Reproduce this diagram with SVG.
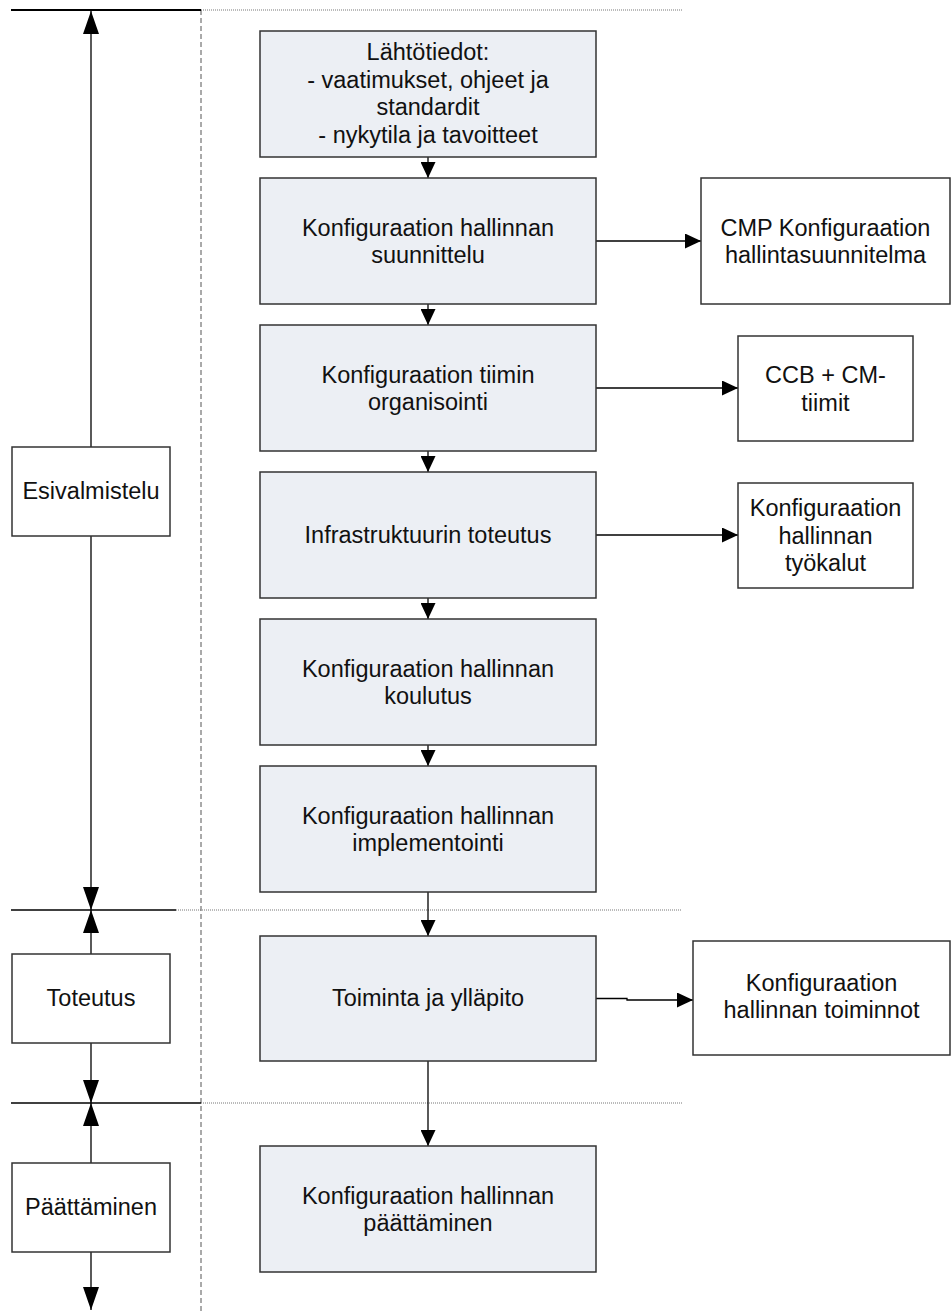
<svg xmlns="http://www.w3.org/2000/svg" width="951" height="1311" viewBox="0 0 951 1311">
  <style>
    .step { fill: #ECEFF4; stroke: #333333; stroke-width: 1.5; }
    .out { fill: #FFFFFF; stroke: #333333; stroke-width: 1.5; }
    .phase { fill: #FFFFFF; stroke: #333333; stroke-width: 1.5; }
    text { font-family: "Liberation Sans", Arial, sans-serif; font-size: 23.5px; fill: #111111; text-anchor: middle; }
    .conn { stroke: #000000; stroke-width: 1.3; fill: none; }
    .sep { stroke: #000000; stroke-width: 2; }
    .dot { stroke: #777777; stroke-width: 1; stroke-dasharray: 1 1; }
    .lane { stroke: #555555; stroke-width: 1; stroke-dasharray: 5 3; }
  </style>
  <defs>
    <marker id="big" markerUnits="userSpaceOnUse" markerWidth="24" markerHeight="16" refX="23" refY="8" orient="auto">
      <path d="M0 0 L23 8 L0 16 z" fill="#000000"/>
    </marker>
    <marker id="small" markerUnits="userSpaceOnUse" markerWidth="16" markerHeight="15" refX="16" refY="7.5" orient="auto">
      <path d="M0 0 L16 7.5 L0 15 z" fill="#000000"/>
    </marker>
  </defs>

  <rect width="951" height="1311" fill="#FFFFFF"/>

  <!-- phase boundaries and lane divider -->
  <g id="frame">
    <line class="lane" x1="201" y1="10" x2="201" y2="1311"/>
    <line class="sep" x1="11" y1="10" x2="201" y2="10"/>
    <line class="dot" x1="201" y1="10" x2="682" y2="10"/>
    <line class="sep" x1="11" y1="910" x2="176" y2="910" style="stroke-width:1.5"/>
    <line class="dot" x1="176" y1="910" x2="682" y2="910"/>
    <line class="sep" x1="11" y1="1103" x2="201" y2="1103" style="stroke-width:1.5"/>
    <line class="dot" x1="201" y1="1103" x2="682" y2="1103"/>
  </g>

  <!-- connectors -->
  <g id="connectors">
    <!-- phase extents -->
    <line class="conn" x1="91" y1="447" x2="91" y2="11" marker-end="url(#big)"/>
    <line class="conn" x1="91" y1="536" x2="91" y2="910" marker-end="url(#big)"/>
    <line class="conn" x1="91" y1="954" x2="91" y2="910" marker-end="url(#big)"/>
    <line class="conn" x1="91" y1="1043" x2="91" y2="1103" marker-end="url(#big)"/>
    <line class="conn" x1="91" y1="1163" x2="91" y2="1103" marker-end="url(#big)"/>
    <line class="conn" x1="91" y1="1252" x2="91" y2="1310" marker-end="url(#big)"/>
    <!-- main flow -->
    <line class="conn" x1="428" y1="157" x2="428" y2="178" marker-end="url(#small)"/>
    <line class="conn" x1="428" y1="304" x2="428" y2="325" marker-end="url(#small)"/>
    <line class="conn" x1="428" y1="451" x2="428" y2="472" marker-end="url(#small)"/>
    <line class="conn" x1="428" y1="598" x2="428" y2="619" marker-end="url(#small)"/>
    <line class="conn" x1="428" y1="745" x2="428" y2="766" marker-end="url(#small)"/>
    <line class="conn" x1="428" y1="892" x2="428" y2="936" marker-end="url(#small)"/>
    <line class="conn" x1="428" y1="1061" x2="428" y2="1146" marker-end="url(#small)"/>
    <!-- outputs -->
    <line class="conn" x1="596" y1="241" x2="701" y2="241" marker-end="url(#small)"/>
    <line class="conn" x1="596" y1="388" x2="738" y2="388" marker-end="url(#small)"/>
    <line class="conn" x1="596" y1="535" x2="738" y2="535" marker-end="url(#small)"/>
    <path class="conn" d="M596 998.5 H627 V1000 H693" marker-end="url(#small)"/>
  </g>

  <!-- phases -->
  <g id="esivalmistelu">
    <rect class="phase" x="12" y="447" width="158" height="89"/>
    <text x="91" y="499">Esivalmistelu</text>
  </g>
  <g id="toteutus">
    <rect class="phase" x="12" y="954" width="158" height="89"/>
    <text x="91" y="1006">Toteutus</text>
  </g>
  <g id="paattaminen">
    <rect class="phase" x="12" y="1163" width="158" height="89"/>
    <text x="91" y="1215">Päättäminen</text>
  </g>

  <!-- process steps -->
  <g id="lahtotiedot">
    <rect class="step" x="260" y="31" width="336" height="126"/>
    <text x="428" y="60">Lähtötiedot:</text>
    <text x="428" y="87.6">- vaatimukset, ohjeet ja</text>
    <text x="428" y="115.2">standardit</text>
    <text x="428" y="142.8">- nykytila ja tavoitteet</text>
  </g>
  <g id="suunnittelu">
    <rect class="step" x="260" y="178" width="336" height="126"/>
    <text x="428" y="235.5">Konfiguraation hallinnan</text>
    <text x="428" y="263.1">suunnittelu</text>
  </g>
  <g id="organisointi">
    <rect class="step" x="260" y="325" width="336" height="126"/>
    <text x="428" y="382.5">Konfiguraation tiimin</text>
    <text x="428" y="410.1">organisointi</text>
  </g>
  <g id="infrastruktuuri">
    <rect class="step" x="260" y="472" width="336" height="126"/>
    <text x="428" y="543">Infrastruktuurin toteutus</text>
  </g>
  <g id="koulutus">
    <rect class="step" x="260" y="619" width="336" height="126"/>
    <text x="428" y="676.5">Konfiguraation hallinnan</text>
    <text x="428" y="704.1">koulutus</text>
  </g>
  <g id="implementointi">
    <rect class="step" x="260" y="766" width="336" height="126"/>
    <text x="428" y="823.5">Konfiguraation hallinnan</text>
    <text x="428" y="851.1">implementointi</text>
  </g>
  <g id="toiminta">
    <rect class="step" x="260" y="936" width="336" height="125"/>
    <text x="428" y="1006">Toiminta ja ylläpito</text>
  </g>
  <g id="paattaminen-vaihe">
    <rect class="step" x="260" y="1146" width="336" height="126"/>
    <text x="428" y="1203.5">Konfiguraation hallinnan</text>
    <text x="428" y="1231.1">päättäminen</text>
  </g>

  <!-- outputs -->
  <g id="cmp">
    <rect class="out" x="701" y="178" width="249" height="126"/>
    <text x="825.5" y="235.5">CMP Konfiguraation</text>
    <text x="825.5" y="263.1">hallintasuunnitelma</text>
  </g>
  <g id="ccb">
    <rect class="out" x="738" y="336" width="175" height="105"/>
    <text x="825.5" y="383">CCB + CM-</text>
    <text x="825.5" y="410.6">tiimit</text>
  </g>
  <g id="tyokalut">
    <rect class="out" x="738" y="483" width="175" height="105"/>
    <text x="825.5" y="516">Konfiguraation</text>
    <text x="825.5" y="543.6">hallinnan</text>
    <text x="825.5" y="571.2">työkalut</text>
  </g>
  <g id="toiminnot">
    <rect class="out" x="693" y="941" width="257" height="114"/>
    <text x="821.5" y="990.5">Konfiguraation</text>
    <text x="821.5" y="1018.1">hallinnan toiminnot</text>
  </g>
</svg>
